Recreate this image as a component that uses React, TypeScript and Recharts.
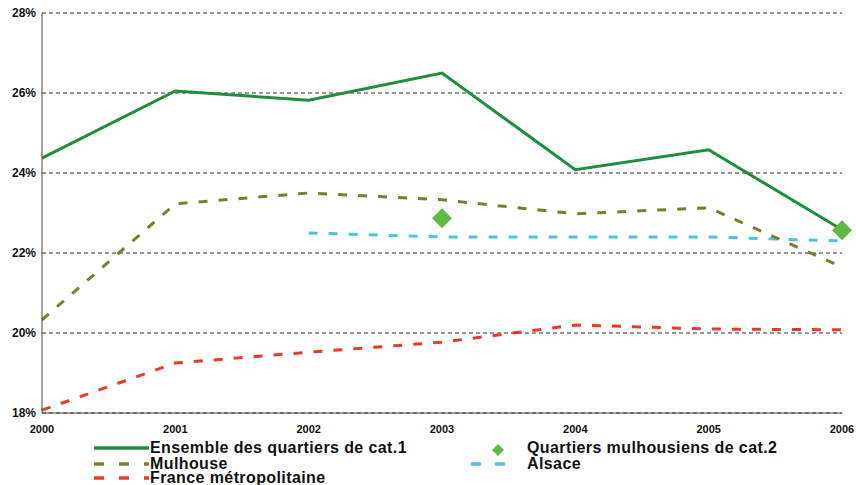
import React from 'react';
import { ComposedChart, Line, XAxis, YAxis, CartesianGrid } from 'recharts';

const years = [2000, 2001, 2002, 2003, 2004, 2005, 2006];
const ensemble = [24.37, 26.05, 25.82, 26.5, 24.08, 24.58, 22.58];
const mulhouse = [20.33, 23.23, 23.5, 23.33, 22.98, 23.13, 21.65];
const alsace = [null, null, 22.5, 22.4, 22.4, 22.4, 22.3];
const france = [18.07, 19.25, 19.52, 19.77, 20.2, 20.1, 20.08];
const quartiers2 = [null, null, null, 22.87, null, null, 22.57];
const yTicks = [18, 20, 22, 24, 26, 28];

const data = years.map((year, i) => ({
  year,
  ensemble: ensemble[i],
  mulhouse: mulhouse[i],
  alsace: alsace[i],
  france: france[i],
  quartiers2: quartiers2[i],
}));

const GREEN = '#1f8c3f';
const OLIVE = '#7d7d30';
const CYAN = '#52c4da';
const RED = '#f0372c';
const DIAMOND = '#62ba46';

const font = '"Liberation Sans", Arial, sans-serif';

const Diamond = (props: any) => {
  const { cx, cy, value, index } = props;
  if (value == null || cx == null || cy == null) return <g key={index} />;
  const r = 10;
  return (
    <polygon
      key={index}
      points={`${cx},${cy - r} ${cx + r},${cy} ${cx},${cy + r} ${cx - r},${cy}`}
      fill={DIAMOND}
    />
  );
};

const legendText: React.CSSProperties = {
  position: 'absolute',
  fontFamily: font,
  fontWeight: 'bold',
  fontSize: 16,
  letterSpacing: 0.4,
  color: '#111',
  lineHeight: '14px',
  whiteSpace: 'nowrap',
};

const LegendLine = ({ x, y, w, color, dash }: { x: number; y: number; w: number; color: string; dash?: string }) => (
  <svg style={{ position: 'absolute', left: x, top: y - 4 }} width={w} height={8}>
    <line x1={0} y1={4} x2={w} y2={4} stroke={color} strokeWidth={3.5} strokeDasharray={dash} />
  </svg>
);

export default function App() {
  React.useLayoutEffect(() => {
    document.body.style.margin = '0';
    document.body.style.overflow = 'hidden';
  }, []);

  return (
    <div style={{ position: 'relative', width: 856, height: 485, overflow: 'hidden', background: '#fff' }}>
      <ComposedChart width={856} height={485} data={data} margin={{ top: 13, right: 14, left: 6, bottom: 52 }}>
        <CartesianGrid vertical={false} stroke="#333" strokeDasharray="4 3" />
        <XAxis
          dataKey="year"
          type="number"
          domain={[2000, 2006]}
          ticks={years}
          tickLine={false}
          tickSize={10}
          axisLine={{ stroke: '#444', strokeWidth: 1 }}
          tick={{ fontFamily: font, fontSize: 11, fontWeight: 'bold', fill: '#111' }}
          height={20}
        />
        <YAxis
          domain={[18, 28]}
          ticks={yTicks}
          tickFormatter={(v) => `${v}%`}
          tickLine={false}
          tickSize={4}
          width={36}
          axisLine={{ stroke: '#444', strokeWidth: 1 }}
          tick={{ fontFamily: font, fontSize: 12, fontWeight: 'bold', fill: '#111' }}
          interval={0}
        />
        <Line dataKey="france" stroke={RED} strokeWidth={3} strokeDasharray="9 11" dot={false} isAnimationActive={false} />
        <Line dataKey="alsace" stroke={CYAN} strokeWidth={3} strokeDasharray="9 11" dot={false} isAnimationActive={false} />
        <Line dataKey="mulhouse" stroke={OLIVE} strokeWidth={3} strokeDasharray="9 11" dot={false} isAnimationActive={false} />
        <Line dataKey="ensemble" stroke={GREEN} strokeWidth={3} dot={false} isAnimationActive={false} />
        <Line dataKey="quartiers2" stroke="none" dot={Diamond} activeDot={false} isAnimationActive={false} />
      </ComposedChart>

      <LegendLine x={94} y={448} w={55} color={GREEN} />
      <div style={{ ...legendText, left: 150, top: 441 }}>Ensemble des quartiers de cat.1</div>
      <LegendLine x={94} y={464} w={55} color={OLIVE} dash="10 15" />
      <div style={{ ...legendText, left: 150, top: 457 }}>Mulhouse</div>
      <LegendLine x={94} y={478} w={55} color={RED} dash="10 15" />
      <div style={{ ...legendText, left: 150, top: 471 }}>France métropolitaine</div>

      <svg style={{ position: 'absolute', left: 491, top: 443 }} width={14} height={14}>
        <polygon points="7,1 13,7 7,13 1,7" fill={DIAMOND} />
      </svg>
      <div style={{ ...legendText, left: 527, top: 441 }}>Quartiers mulhousiens de cat.2</div>
      <LegendLine x={471} y={464} w={35} color={CYAN} dash="10 14" />
      <div style={{ ...legendText, left: 527, top: 457 }}>Alsace</div>
    </div>
  );
}
